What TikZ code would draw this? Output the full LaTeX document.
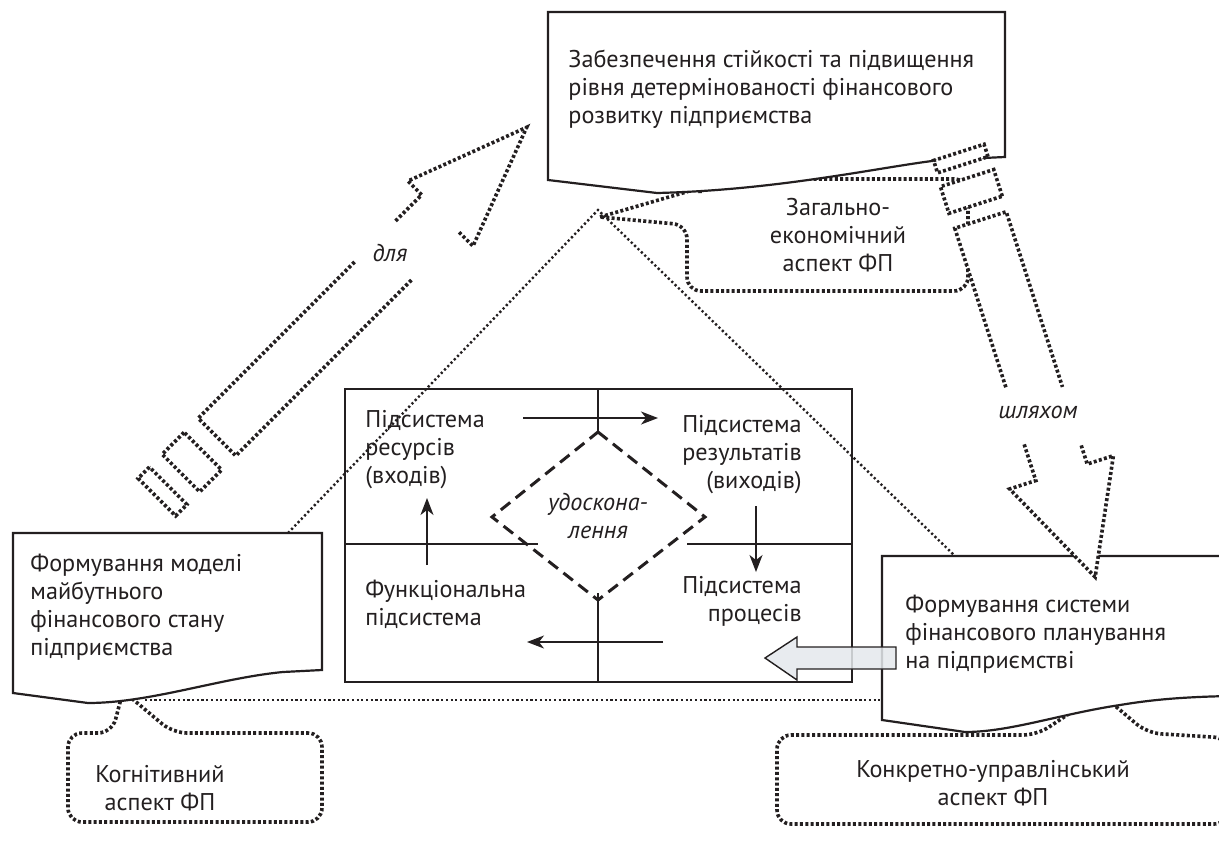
\documentclass[tikz,border=0pt]{standalone}
\usepackage{fontspec}
\setmainfont{PT Sans}
\usepackage{xcolor}
\definecolor{inkDark}{HTML}{231F20}
\definecolor{arrowFill}{HTML}{E4E8EC}
\usepackage{tikz}
\usetikzlibrary{arrows.meta}

\begin{document}
\begin{tikzpicture}[x=0.5pt, y=-0.5pt,
  >={Stealth[length=8.5pt, width=6.5pt, inset=2.5pt]},
  every node/.style={text=inkDark, inner sep=0pt, font=\fontsize{12.1}{14}\selectfont},
  docbox/.style={draw=inkDark, line width=1.1pt, fill=white},
  thickdots/.style={draw=inkDark, line width=1.8pt, dash pattern=on 1.5pt off 1.15pt},
  thindots/.style={draw=inkDark, line width=1.2pt, dash pattern=on 1.1pt off 1.25pt},
  flow/.style={draw=inkDark, line width=0.65pt, ->},
  gridline/.style={draw=inkDark, line width=1.3pt},
  note/.style={font=\fontsize{12.1}{14}\selectfont\itshape}]
  \clip (0,0) rectangle (1219,846);
  % ------- aspect clouds, drawn first so the boxes cover their tips -------
  \draw[thickdots, rounded corners=7pt] (600,217) -- (700,188) -- (700,179) -- (968,179)
    -- (968,291) -- (687,291) -- (687,225) -- (600,217);
  \draw[thickdots, rounded corners=7pt] (123,691) -- (112,733) -- (68,733) -- (68,822)
    -- (322,822) -- (322,733) -- (173,733) -- (123,691);
  \draw[thickdots, rounded corners=7pt] (1100,693) -- (1037,735) -- (777,735) -- (777,824)
    -- (1228,824) -- (1228,738) -- (1147,733) -- (1100,693);
  % triangle of links and the base line
  \coordinate (apex) at (598,210);
  \coordinate (leftFoot) at (288,533);
  \coordinate (rightFoot) at (955,556);
  \draw[thindots] (leftFoot) -- (apex) -- (rightFoot);
  \draw[thindots, line width=1pt] (145,700) -- (882,700);
  % ------- the three document boxes -------
  \draw[docbox] (548,12) -- (1005,12) -- (1005,157) -- (940,160)
    .. controls (880,167) and (780,190) .. (657,193) -- (548,180) -- cycle;
  \draw[docbox] (13,533) -- (322,533) -- (322,670) -- (283,672)
    .. controls (220,678) and (150,703) .. (88,703) -- (13,693) -- cycle;
  \draw[docbox] (882,556) -- (1230,556) -- (1230,696)
    .. controls (1180,697) and (1150,700) .. (1120,705)
    .. controls (1060,714) and (1010,732) .. (965,732) -- (882,720) -- cycle;
  \node[anchor=west, align=left] (goalText) at (568,89)
    {Забезпечення стійкості та підвищення\\рівня детермінованості фінансового\\розвитку підприємства};
  \node[anchor=west, align=left] (modelText) at (30,607)
    {Формування моделі\\майбутнього\\фінансового стану\\підприємства};
  \node[anchor=west, align=left] (planText) at (905,634)
    {Формування системи\\фінансового планування\\на підприємстві};
  \node[align=center] (generalText) at (838,235) {Загально-\\економічний\\аспект ФП};
  \node[align=center] (cognitiveText) at (160,788) {Когнітивний\\аспект ФП};
  \node[align=center] (managerialText) at (993,783) {Конкретно-управлінський\\аспект ФП};
  % ------- central block: four subsystems -------
  \draw[gridline] (345,389) rectangle (852,682);
  \draw[gridline] (345,544) -- (538,544) (687,544) -- (852,544);
  \draw[gridline] (598,389) -- (598,433) (598,593) -- (598,682);
  \draw[inkDark, line width=1.5pt, dash pattern=on 6pt off 3.5pt]
    (598,432) -- (705,517) -- (598,600) -- (492,517) -- cycle;
  \node[anchor=west, align=left] (inputsText) at (365,450) {Підсистема\\ресурсів\\(входів)};
  \node[anchor=east, align=right] (outputsText) at (802,455) {Підсистема\\результатів\\(виходів)};
  \node[anchor=west, align=left] (functionalText) at (365,604) {Функціональна\\підсистема};
  \node[anchor=east, align=right] (processesText) at (802,601) {Підсистема\\процесів};
  \node[note, align=center] (improveText) at (598,516) {удоскона-\\лення};
  \coordinate (inStart) at (523,418);   \coordinate (inEnd) at (658,418);
  \coordinate (outStart) at (756,506);  \coordinate (outEnd) at (756,572);
  \coordinate (procStart) at (663,642); \coordinate (procEnd) at (527,642);
  \coordinate (funStart) at (427,565);  \coordinate (funEnd) at (427,498);
  \draw[flow] (inStart) -- (inEnd);
  \draw[flow] (outStart) -- (outEnd);
  \draw[flow] (procStart) -- (procEnd);
  \draw[flow] (funStart) -- (funEnd);
  % ------- dotted arrow up to the goal -------
  \begin{scope}[shift={(217,437)}, rotate=45]
    \draw[thickdots] (221,-26.5) -- (0,-26.5) -- (0,26.5) -- (249,26.5);
    \draw[thickdots] (279,-26.5) -- (316,-26.5) -- (316,-46) -- (438,0) -- (316,46) -- (316,26.5);
    \draw[thickdots] (-20,-26.5) -- (-51,-26.5) -- (-51,26.5) -- (-20,26.5) -- cycle;
    \draw[thickdots] (-69,-26.5) -- (-85,-26.5) -- (-85,26.5) -- (-69,26.5) -- cycle;
  \end{scope}
  \node[note] (forText) at (390,253) {для};
  % ------- dotted arrow down to the planning box -------
  \begin{scope}[shift={(980.5,220)}, rotate=-72.2]
    \fill[white] (0,-27) -- (265,-27) -- (265,27) -- (0,27) -- cycle;
    \draw[thickdots, fill=white] (-58,-26.5) -- (-71,-26.5) -- (-71,26.5) -- (-58,26.5) -- cycle;
    \draw[thickdots, fill=white] (-16,-28) -- (-44,-28) -- (-44,28) -- (-16,28) -- cycle;
    \draw[thickdots] (167,27) -- (0,27) -- (0,-27) -- (184,-27);
    \draw[thickdots, fill=white] (227,27) -- (265,27) -- (265,54.5) -- (375,0)
      -- (265,-54.5) -- (265,-27) -- (245,-27);
  \end{scope}
  \node[note] (wayText) at (1038,412) {шляхом};
  % wide arrow from the planning box into the block
  \draw[inkDark, line width=0.7pt, fill=arrowFill, fill opacity=0.85]
    (765,658) -- (797,637) -- (797,647) -- (896,647) -- (896,669) -- (797,669) -- (797,680) -- cycle;
\end{tikzpicture}
\end{document}
